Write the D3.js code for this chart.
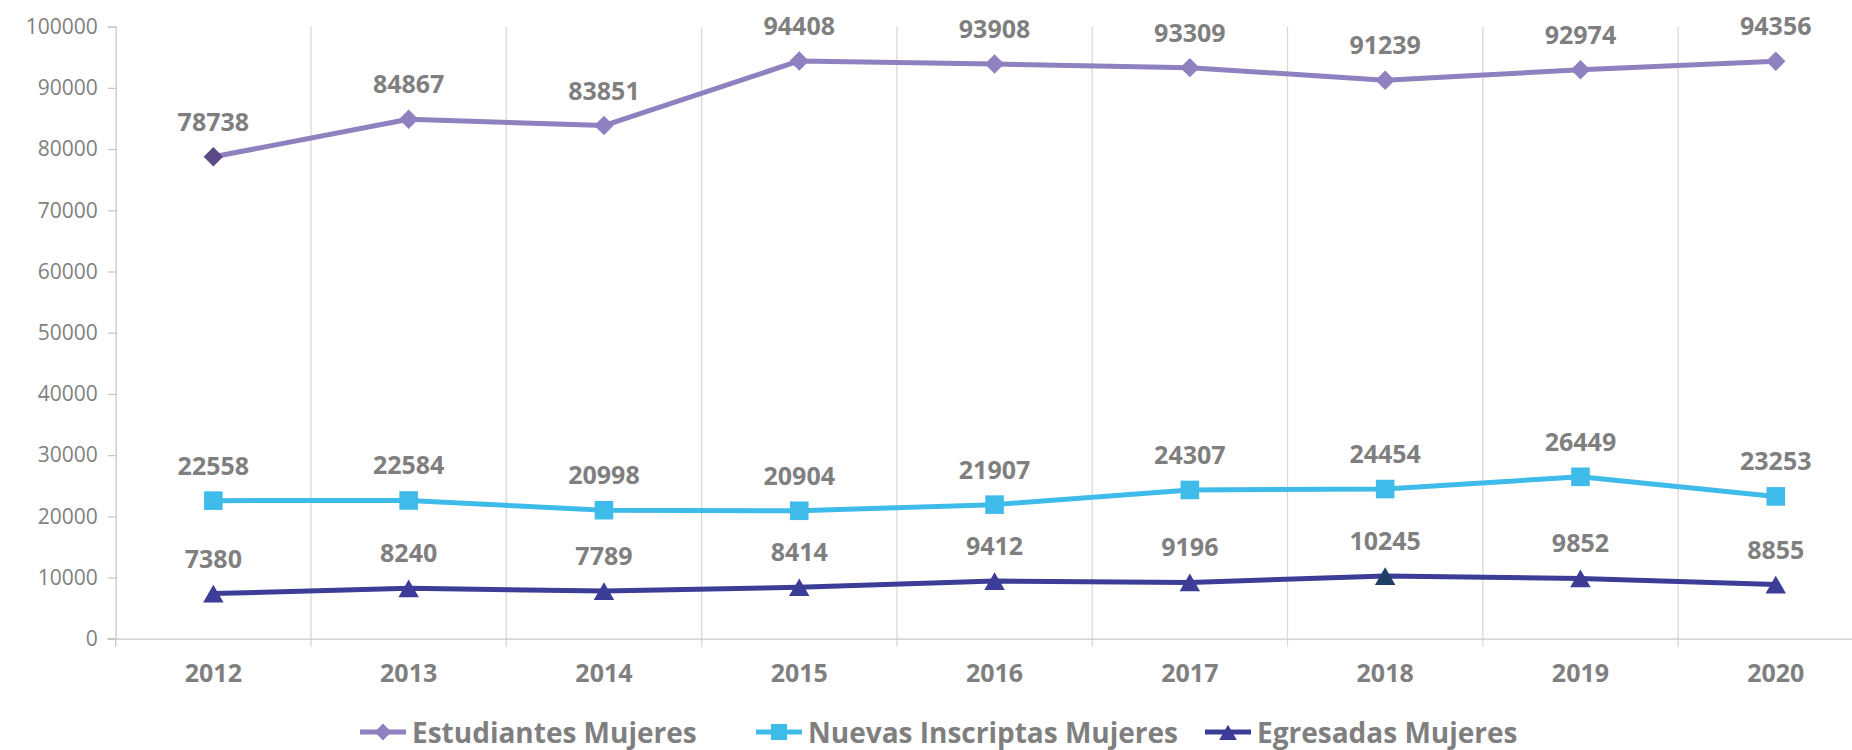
<!DOCTYPE html>
<html lang="es">
<head>
<meta charset="utf-8">
<title>Mujeres 2012-2020</title>
<script src="https://d3js.org/d3.v7.min.js"></script>
<style>
  body { margin: 0; background: #fff; }
  svg text { font-family: "Open Sans", sans-serif; }
</style>
</head>
<body>
<div id="chart"></div>
<script>
// data
var years = ["2012", "2013", "2014", "2015", "2016", "2017", "2018", "2019", "2020"];
var estudiantes = [78738, 84867, 83851, 94408, 93908, 93309, 91239, 92974, 94356];
var nuevas = [22558, 22584, 20998, 20904, 21907, 24307, 24454, 26449, 23253];
var egresadas = [7380, 8240, 7789, 8414, 9412, 9196, 10245, 9852, 8855];
var yTicks = [0, 10000, 20000, 30000, 40000, 50000, 60000, 70000, 80000, 90000, 100000];
var seriesNames = ["Estudiantes Mujeres", "Nuevas Inscriptas Mujeres", "Egresadas Mujeres"];

var W = 1852, H = 750;
var margin = {top: 26.7, left: 115.7, bottom: 111.3};
var band = 195.3;

var svg = d3.select("#chart").append("svg")
  .attr("width", W).attr("height", H);

var x = d3.scaleBand()
  .domain(years)
  .range([margin.left, margin.left + band * years.length]);

var y = d3.scaleLinear()
  .domain([0, 100000])
  .range([H - margin.bottom, margin.top]);

var cx = function(d, i) { return x(years[i]) + x.bandwidth() / 2; };

// vertical gridlines at band boundaries
var bounds = years.map(function(d) { return x(d); }).concat([x.range()[1]]);
svg.append("g").selectAll("line")
  .data(bounds.slice(1))
  .enter().append("line")
  .attr("x1", function(d) { return d; }).attr("x2", function(d) { return d; })
  .attr("y1", y(100000)).attr("y2", y(0) + 8)
  .attr("stroke", "#d9d9d9").attr("stroke-width", 1.3);

// y axis
var yAxis = svg.append("g")
  .attr("transform", "translate(" + margin.left + ",0)")
  .call(d3.axisLeft(y).tickValues(yTicks).tickSize(8).tickPadding(10).tickFormat(d3.format("d")));
yAxis.select(".domain").attr("stroke", "#c8c8c8").attr("stroke-width", 1.3);
yAxis.selectAll(".tick line").attr("stroke", "#c8c8c8").attr("stroke-width", 1.3);
yAxis.selectAll("text").attr("fill", "#7f7f7f").style("font-size", "21px");

// x axis
var xAxis = svg.append("g")
  .attr("transform", "translate(0," + y(0) + ")")
  .call(d3.axisBottom(x).tickSize(0).tickPadding(26));
xAxis.select(".domain").attr("stroke", "#c8c8c8").attr("stroke-width", 1.3);
xAxis.selectAll("text").attr("fill", "#7f7f7f").style("font-size", "25px").style("font-weight", "bold");
svg.append("line")
  .attr("x1", margin.left - 8).attr("x2", margin.left)
  .attr("y1", y(0)).attr("y2", y(0))
  .attr("stroke", "#c8c8c8").attr("stroke-width", 1.3);
svg.append("line")
  .attr("x1", margin.left).attr("x2", margin.left)
  .attr("y1", y(0)).attr("y2", y(0) + 8)
  .attr("stroke", "#c8c8c8").attr("stroke-width", 1.3);

var series = [
  {name: seriesNames[0], values: estudiantes, color: "#8f80bf", marker: d3.symbolDiamond2, size: 240, dy: 0, special: {0: "#5c4a86"}},
  {name: seriesNames[1], values: nuevas, color: "#3fbbea", marker: d3.symbolSquare2, size: 440, dy: 0, special: {}},
  {name: seriesNames[2], values: egresadas, color: "#3b3d96", marker: d3.symbolTriangle2, size: 300, dy: 3, special: {6: "#203f66"}}
];

var line = d3.line()
  .x(function(d, i) { return cx(d, i); })
  .y(function(d) { return y(d); });

series.forEach(function(s) {
  var g = svg.append("g");
  g.append("path")
    .datum(s.values)
    .attr("d", line)
    .attr("fill", "none")
    .attr("stroke", s.color)
    .attr("stroke-width", 5)
    .attr("stroke-linejoin", "round");

  g.selectAll("path.mk")
    .data(s.values)
    .enter().append("path")
    .attr("class", "mk")
    .attr("d", d3.symbol().type(s.marker).size(s.size))
    .attr("transform", function(d, i) {
      return "translate(" + cx(d, i) + "," + (y(d) + s.dy) + ")";
    })
    .attr("fill", function(d, i) { return s.special[i] || s.color; });

  g.selectAll("text")
    .data(s.values)
    .enter().append("text")
    .attr("x", function(d, i) { return cx(d, i); })
    .attr("y", function(d) { return y(d) - 36; })
    .attr("text-anchor", "middle")
    .attr("dominant-baseline", "central")
    .attr("fill", "#7f7f7f")
    .style("font-size", "25px")
    .style("font-weight", "bold")
    .text(function(d) { return d; });
});

// legend
var legendX = [360, 756, 1205];
var legend = svg.append("g").attr("transform", "translate(0,732)");
series.forEach(function(s, i) {
  var lg = legend.append("g").attr("transform", "translate(" + legendX[i] + ",0)");
  lg.append("line")
    .attr("x1", 0).attr("x2", 46)
    .attr("stroke", s.color).attr("stroke-width", 5);
  lg.append("path")
    .attr("d", d3.symbol().type(s.marker).size(s.size * 0.75))
    .attr("transform", "translate(23," + s.dy + ")")
    .attr("fill", s.color);
  lg.append("text")
    .attr("x", 52)
    .attr("dominant-baseline", "central")
    .attr("fill", "#7f7f7f")
    .style("font-size", "28px")
    .style("font-weight", "bold")
    .text(s.name);
});
</script>
</body>
</html>
